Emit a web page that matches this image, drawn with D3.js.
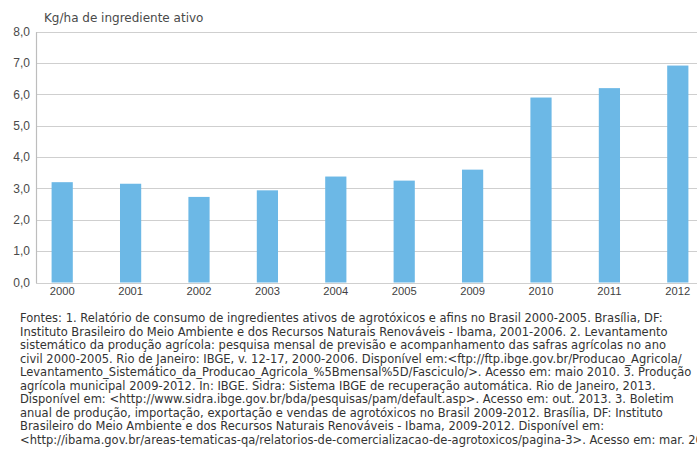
<!DOCTYPE html>
<html>
<head>
<meta charset="utf-8">
<script src="https://cdn.jsdelivr.net/npm/d3@7"></script>
<style>
  body { margin: 0; background: #fff; }
  svg { display: block; font-family: "DejaVu Sans", "Liberation Sans", Arial, sans-serif; }
</style>
</head>
<body>
<div id="chart"></div>
<script>
// Data
let years = ["2000", "2001", "2002", "2003", "2004", "2005", "2009", "2010", "2011", "2012"];
let values = [3.2, 3.15, 2.73, 2.94, 3.38, 3.25, 3.6, 5.9, 6.2, 6.92];
let yTicks = [0, 1, 2, 3, 4, 5, 6, 7, 8];
let unitLabel = "Kg/ha de ingrediente ativo";
let sourceLines = [
  "Fontes: 1. Relatório de consumo de ingredientes ativos de agrotóxicos e afins no Brasil 2000-2005. Brasília, DF:",
  "Instituto Brasileiro do Meio Ambiente e dos Recursos Naturais Renováveis - Ibama, 2001-2006. 2. Levantamento",
  "sistemático da produção agrícola: pesquisa mensal de previsão e acompanhamento das safras agrícolas no ano",
  "civil 2000-2005. Rio de Janeiro: IBGE, v. 12-17, 2000-2006. Disponível em:<ftp://ftp.ibge.gov.br/Producao_Agricola/",
  "Levantamento_Sistemático_da_Producao_Agricola_%5Bmensal%5D/Fasciculo/>. Acesso em: maio 2010. 3. Produção",
  "agrícola municipal 2009-2012. In: IBGE. Sidra: Sistema IBGE de recuperação automática. Rio de Janeiro, 2013.",
  "Disponível em: <http://www.sidra.ibge.gov.br/bda/pesquisas/pam/default.asp>. Acesso em: out. 2013. 3. Boletim",
  "anual de produção, importação, exportação e vendas de agrotóxicos no Brasil 2009-2012. Brasília, DF: Instituto",
  "Brasileiro do Meio Ambiente e dos Recursos Naturais Renováveis - Ibama, 2009-2012. Disponível em:",
  "<http://ibama.gov.br/areas-tematicas-qa/relatorios-de-comercializacao-de-agrotoxicos/pagina-3>. Acesso em: mar. 2015."
];

let width = 697, height = 466;
let axisX = 36, plotRight = 697, plotTop = 31.7, plotBottom = 282.5;

let svg = d3.select("#chart")
    .append("svg")
    .attr("width", width)
    .attr("height", height);

// y scale (kg/ha)
let y = d3.scaleLinear()
    .domain([0, 8])
    .range([plotBottom, plotTop]);

// x band scale, the last bar is cut off at the right edge like the picture
let x = d3.scaleBand()
    .domain(years)
    .range([28, 712])
    .paddingInner(0.69)
    .paddingOuter(0.345);

// Gridlines
svg.append("g")
    .selectAll("line")
    .data(yTicks)
    .enter()
    .append("line")
    .attr("x1", axisX)
    .attr("x2", plotRight)
    .attr("y1", d => Math.round(y(d)) + 0.5)
    .attr("y2", d => Math.round(y(d)) + 0.5)
    .attr("stroke", "#cfcfcf")
    .attr("stroke-width", 1.2);

// Bars
svg.append("g")
    .selectAll("rect")
    .data(values)
    .enter()
    .append("rect")
    .attr("x", (d, i) => x(years[i]))
    .attr("y", d => y(d))
    .attr("width", x.bandwidth())
    .attr("height", d => y(0) - y(d))
    .attr("fill", "#6cb8e6");

// Left axis (only the line and labels)
let yAxis = svg.append("g")
    .attr("transform", `translate(${axisX}, 0)`)
    .call(d3.axisLeft(y).tickValues(yTicks).tickSize(0).tickPadding(6)
        .tickFormat(d => d3.format(".1f")(d).replace(".", ",")));
yAxis.select(".domain").attr("stroke", "#bdbdbd").attr("stroke-width", 1.2);
yAxis.selectAll("text")
    .style("font-size", "12px")
    .attr("fill", "#4a4a4a");

// Year labels
let xAxis = svg.append("g")
    .attr("transform", `translate(0, ${plotBottom})`)
    .call(d3.axisBottom(x).tickSize(0).tickPadding(5));
xAxis.select(".domain").remove();
xAxis.selectAll("text")
    .style("font-size", "11.2px")
    .attr("fill", "#3f3f3f");

// Unit label above plot
svg.append("text")
    .attr("x", 44)
    .attr("y", 22)
    .style("font-size", "12px")
    .attr("fill", "#4a4a4a")
    .text(unitLabel);

// Source notes
svg.append("g")
    .selectAll("text")
    .data(sourceLines)
    .enter()
    .append("text")
    .attr("x", 20)
    .attr("y", (d, i) => 322 + i * 13.5)
    .style("font-size", "11.5px")
    .attr("fill", "#333")
    .text(d => d);
</script>
</body>
</html>
